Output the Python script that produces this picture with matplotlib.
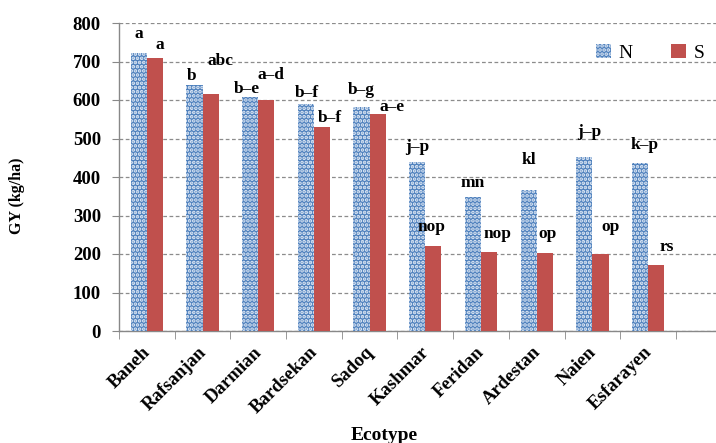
import numpy as np
import matplotlib
matplotlib.use("Agg")
import matplotlib.pyplot as plt
import matplotlib.transforms as mtransforms
from matplotlib.patches import Patch

# Grain yield of ecotypes under two conditions
ecotypes = ["Baneh", "Rafsanjan", "Darmian", "Bardsekan", "Sadoq",
            "Kashmar", "Feridan", "Ardestan", "Naien", "Esfarayen"]
gy_n = [722, 639, 608, 590, 582, 439, 348, 366, 452, 436]
gy_s = [709, 616, 601, 530, 564, 221, 205, 202, 200, 171]

# Mean-separation letters
letters_n = ["a", "b", "b\u2013e", "b\u2013f", "b\u2013g", "j\u2013p", "mn", "kl", "j\u2013p", "k\u2013p"]
letters_s = ["a", "abc", "a\u2013d", "b\u2013f", "a\u2013e", "nop", "nop", "op", "op", "rs"]

# Letter placement: horizontal shift from the ecotype centre, height on the y scale
n_label_dx = [-0.14, -0.19, -0.20, -0.13, -0.14, -0.15, -0.15, -0.14, -0.05, -0.06]
n_label_y = [771, 662, 629, 618, 626, 478, 384, 444, 517, 483]
s_label_dx = [0.23, 0.32, 0.23, 0.29, 0.40, 0.12, 0.29, 0.20, 0.33, 0.34]
s_label_y = [743, 701, 665, 553, 582, 270, 252, 252, 270, 218]

plt.rcParams["font.family"] = ["Liberation Serif", "DejaVu Serif"]
plt.rcParams["hatch.linewidth"] = 1.8

blue = "#4F81BD"
red = "#C0504D"
dots = "#e4ecf7"

fig = plt.figure(figsize=(7.16, 4.43), dpi=100)
ax = fig.add_axes([119 / 716, 1 - 331 / 443, 1 - 119 / 716, 308 / 443])

x = np.arange(len(ecotypes))
w = 0.29
ax.bar(x - w / 2, gy_n, width=w, facecolor=blue, edgecolor=dots,
       hatch="....", linewidth=0, zorder=3)
ax.bar(x + w / 2, gy_s, width=w, color=red, linewidth=0, zorder=3)

for i in range(len(ecotypes)):
    ax.text(x[i] + n_label_dx[i], n_label_y[i], letters_n[i], ha="center",
            va="center", fontsize=12.5, fontweight="bold", zorder=4)
    ax.text(x[i] + s_label_dx[i], s_label_y[i], letters_s[i], ha="center",
            va="center", fontsize=12.5, fontweight="bold", zorder=4)

ax.set_xlim(-0.5, 10.22)
ax.set_ylim(0, 800)
ax.set_yticks(np.arange(0, 801, 100))
ax.tick_params(axis="y", labelsize=13.5, length=5, color="#888888", pad=8)
for lab in ax.get_yticklabels():
    lab.set_fontweight("bold")

# category boundaries carry the tick marks; names sit at the centres
ax.set_xticks(np.arange(-0.5, 10.5, 1.0), minor=True)
ax.set_xticks(x)
ax.set_xticklabels(ecotypes, rotation=45, ha="right", va="top",
                   rotation_mode="anchor", fontsize=13.5, fontweight="bold")
ax.tick_params(axis="x", which="major", length=0, pad=9)
ax.tick_params(axis="x", which="minor", length=6, color="#888888")
shift = mtransforms.ScaledTranslation(-5 / 100, 0, fig.dpi_scale_trans)
for lab in ax.get_xticklabels():
    lab.set_transform(lab.get_transform() + shift)

ax.yaxis.grid(True, linestyle=(0, (3, 2)), color="#8c8c8c", linewidth=0.9, zorder=0)
ax.set_axisbelow(True)
for side in ("top", "right"):
    ax.spines[side].set_visible(False)
for side in ("left", "bottom"):
    ax.spines[side].set_color("#888888")
    ax.spines[side].set_linewidth(1.0)

fig.text(17 / 716, 1 - 196 / 443, "GY (kg/ha)", rotation=90, ha="center",
         va="center", fontsize=11.5, fontweight="bold")
fig.text(384 / 716, 1 - 435 / 443, "Ecotype", ha="center", va="center",
         fontsize=14, fontweight="bold")

handles = [Patch(facecolor=blue, edgecolor=dots, hatch="....", linewidth=0, label="N"),
           Patch(facecolor=red, linewidth=0, label="S")]
ax.legend(handles=handles, loc="center", bbox_to_anchor=(0.89, 0.903), ncol=2,
          frameon=False, fontsize=14, handlelength=0.75, handleheight=0.75,
          handletextpad=0.4, columnspacing=2.0)

fig.savefig("out.png", dpi=100)
